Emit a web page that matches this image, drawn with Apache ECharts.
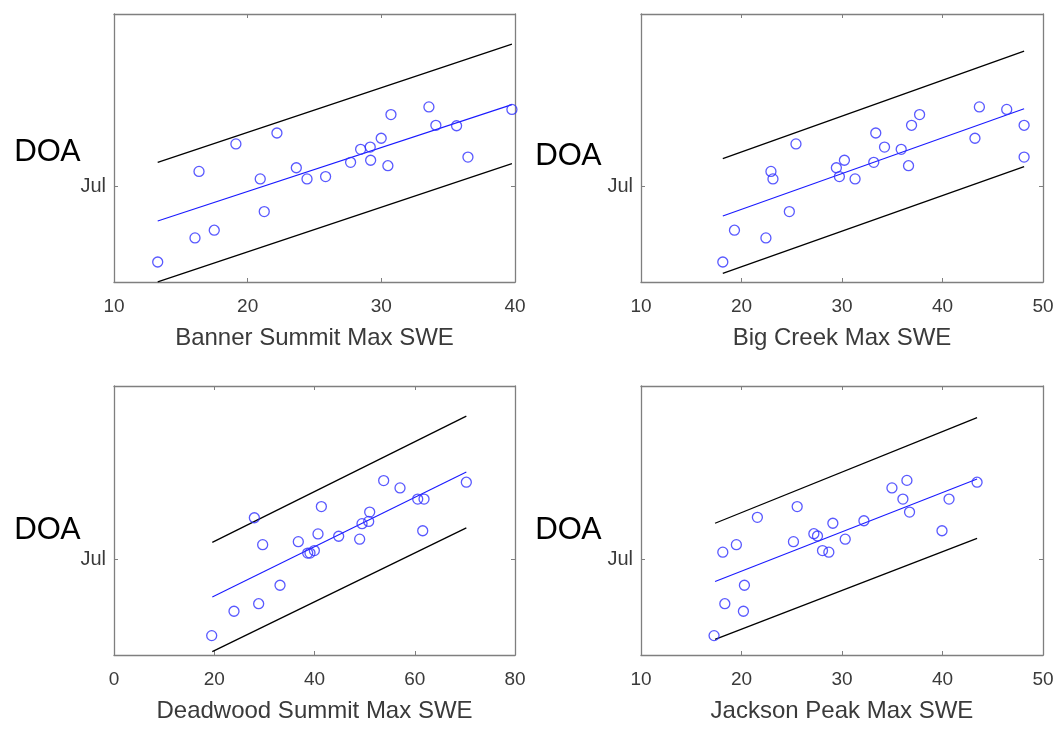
<!DOCTYPE html>
<html>
<head>
<meta charset="utf-8">
<title>DOA vs Max SWE</title>
<script src="https://cdn.jsdelivr.net/npm/echarts@6/dist/echarts.min.js"></script>
<style>
  html, body { margin: 0; padding: 0; background: #ffffff; }
  #chart { width: 1062px; height: 730px; }
</style>
</head>
<body>
<div id="chart"></div>
<script>
// Day of year (DOA) against maximum snow water equivalent at four sites.
// DOA values are day-of-year; Jul 1 = day 182.
const JUL = 182;
const doaMin = 140;
const doaMax = 258;

// Banner Summit
const bannerSWE = [13.27, 16.06, 16.36, 17.50, 19.12, 20.94, 21.24, 22.19, 23.64, 24.44, 25.83, 27.70,
                   28.45, 29.17, 29.20, 29.99, 30.49, 30.72, 33.56, 34.08, 35.63, 36.48, 39.77];
const bannerDOA = [148.8, 159.4, 188.7, 162.8, 200.8, 185.4, 171.0, 205.6, 190.3, 185.4, 186.4, 192.7,
                   198.4, 199.4, 193.6, 203.3, 191.2, 213.7, 217.1, 209.0, 208.8, 195.0, 216.0];
const bannerLineX = [13.27, 39.77];
const bannerFit = [166.9, 218.1];
const bannerUpper = [192.7, 244.7];
const bannerLower = [140.1, 192.1];

// Big Creek
const bigCreekSWE = [18.14, 19.30, 22.43, 22.93, 23.13, 24.76, 25.42, 29.44, 29.74, 30.24, 31.30, 33.16,
                     33.36, 34.23, 35.89, 36.62, 36.92, 37.72, 43.23, 43.67, 46.39, 48.12, 48.12];
const bigCreekDOA = [148.8, 162.8, 159.4, 188.7, 185.4, 171.0, 200.8, 190.3, 186.4, 193.6, 185.4, 192.7,
                     205.6, 199.4, 198.4, 191.2, 209.0, 213.7, 203.3, 217.1, 216.0, 209.0, 195.0];
const bigCreekLineX = [18.14, 48.12];
const bigCreekFit = [169.1, 216.3];
const bigCreekUpper = [194.3, 241.7];
const bigCreekLower = [143.8, 190.8];

// Deadwood Summit
const deadwoodSWE = [19.49, 23.94, 28.00, 28.86, 29.66, 33.12, 36.77, 38.64, 39.10, 39.97, 40.70, 41.37,
                     44.82, 49.01, 49.48, 50.81, 51.01, 53.80, 57.06, 60.59, 61.85, 61.59, 70.29];
const deadwoodDOA = [148.5, 159.2, 200.2, 162.5, 188.4, 170.6, 189.7, 184.7, 184.7, 185.8, 193.1, 205.1,
                     192.1, 190.8, 197.6, 198.6, 202.7, 216.5, 213.3, 208.4, 208.4, 194.5, 215.8];
const deadwoodLineX = [19.61, 70.29];
const deadwoodFit = [165.4, 220.3];
const deadwoodUpper = [189.4, 244.8];
const deadwoodLower = [141.5, 195.8];

// Jackson Peak
const jacksonSWE = [17.27, 18.14, 18.34, 19.49, 20.19, 20.29, 21.58, 25.17, 25.54, 27.20, 27.56, 28.06,
                    28.69, 29.09, 30.32, 32.18, 34.97, 36.06, 36.46, 36.72, 39.95, 40.65, 43.44];
const jacksonDOA = [148.5, 185.1, 162.5, 188.4, 159.2, 170.6, 200.4, 189.7, 205.1, 193.2, 192.2, 185.8,
                    185.1, 197.8, 190.8, 198.9, 213.3, 208.4, 216.6, 202.7, 194.5, 208.4, 215.8];
const jacksonLineX = [17.37, 43.44];
const jacksonFit = [172.2, 217.2];
const jacksonUpper = [197.8, 244.1];
const jacksonLower = [146.9, 191.2];

// x-axis names and tick settings
const axisNames = ['Banner Summit Max SWE', 'Big Creek Max SWE', 'Deadwood Summit Max SWE', 'Jackson Peak Max SWE'];
const xMins = [10, 10, 0, 10];
const xMaxs = [40, 50, 80, 50];
const xSteps = [10, 10, 20, 10];

const panels = [
  { swe: bannerSWE, doa: bannerDOA, lx: bannerLineX, fit: bannerFit, up: bannerUpper, lo: bannerLower },
  { swe: bigCreekSWE, doa: bigCreekDOA, lx: bigCreekLineX, fit: bigCreekFit, up: bigCreekUpper, lo: bigCreekLower },
  { swe: deadwoodSWE, doa: deadwoodDOA, lx: deadwoodLineX, fit: deadwoodFit, up: deadwoodUpper, lo: deadwoodLower },
  { swe: jacksonSWE, doa: jacksonDOA, lx: jacksonLineX, fit: jacksonFit, up: jacksonUpper, lo: jacksonLower }
];

// layout of the four plot boxes
const boxes = [
  { left: 114, top: 14, width: 401, height: 268 },
  { left: 641, top: 14, width: 402, height: 268 },
  { left: 114, top: 386, width: 401, height: 269 },
  { left: 641, top: 386, width: 402, height: 269 }
];

const frameColor = '#7f7f7f';
const textColor = '#3a3a3a';
const font = '"Liberation Sans", Arial, sans-serif';
const doaFont = 'Lato, "Open Sans", sans-serif';

const grid = boxes.map(b => ({ left: b.left, top: b.top, width: b.width, height: b.height, containLabel: false }));

const xAxis = [];
const yAxis = [];
const series = [];

panels.forEach((p, i) => {
  const baseX = {
    type: 'value', gridIndex: i, min: xMins[i], max: xMaxs[i], interval: xSteps[i],
    splitLine: { show: false },
    axisLine: { show: true, onZero: false, lineStyle: { color: frameColor, width: 1.3 } },
    axisTick: { show: true, inside: true, length: 4, lineStyle: { color: frameColor } }
  };
  xAxis.push(Object.assign({}, baseX, {
    position: 'bottom',
    name: axisNames[i], nameLocation: 'middle', nameGap: 44,
    nameTextStyle: { color: textColor, fontSize: 24, fontFamily: font },
    axisLabel: { show: true, margin: 15, color: textColor, fontSize: 19, fontFamily: font,
                 showMinLabel: true, showMaxLabel: true }
  }));
  xAxis.push(Object.assign({}, baseX, { position: 'top', axisLabel: { show: false } }));

  const baseY = {
    type: 'value', gridIndex: i, min: doaMin, max: doaMax,
    splitLine: { show: false },
    axisLine: { show: true, onZero: false, lineStyle: { color: frameColor, width: 1.3 } },
    axisTick: { show: true, inside: true, length: 4, customValues: [JUL], lineStyle: { color: frameColor } }
  };
  yAxis.push(Object.assign({}, baseY, {
    position: 'left',
    axisLabel: { show: true, customValues: [JUL], formatter: () => 'Jul', margin: 8,
                 color: textColor, fontSize: 20, fontFamily: font }
  }));
  yAxis.push(Object.assign({}, baseY, { position: 'right', axisLabel: { show: false } }));

  const xa = 2 * i, ya = 2 * i;
  series.push({
    type: 'scatter', xAxisIndex: xa, yAxisIndex: ya,
    symbol: 'circle', symbolSize: 10,
    itemStyle: { color: 'rgba(0,0,0,0)', borderColor: '#2f2fff', borderWidth: 1.3 },
    data: p.swe.map((v, k) => [v, p.doa[k]]),
    z: 5
  });
  const line = (vals, color, width) => ({
    type: 'line', xAxisIndex: xa, yAxisIndex: ya, symbol: 'none',
    lineStyle: { color: color, width: width },
    data: p.lx.map((v, k) => [v, vals[k]]),
    z: 3
  });
  series.push(line(p.fit, '#1a1aff', 1.1));
  series.push(line(p.up, '#000000', 1.3));
  series.push(line(p.lo, '#000000', 1.3));
});

// "DOA" labels beside each row
const graphic = [
  { type: 'text', left: 14, top: 136, style: { text: 'DOA', fontSize: 30, fontFamily: doaFont, fill: '#000000' } },
  { type: 'text', left: 535, top: 140, style: { text: 'DOA', fontSize: 30, fontFamily: doaFont, fill: '#000000' } },
  { type: 'text', left: 14, top: 514, style: { text: 'DOA', fontSize: 30, fontFamily: doaFont, fill: '#000000' } },
  { type: 'text', left: 535, top: 514, style: { text: 'DOA', fontSize: 30, fontFamily: doaFont, fill: '#000000' } }
];

const chart = echarts.init(document.getElementById('chart'), null, { renderer: 'canvas' });
chart.setOption({
  backgroundColor: '#ffffff',
  animation: false,
  grid: grid,
  xAxis: xAxis,
  yAxis: yAxis,
  series: series,
  graphic: graphic
});
</script>
</body>
</html>
